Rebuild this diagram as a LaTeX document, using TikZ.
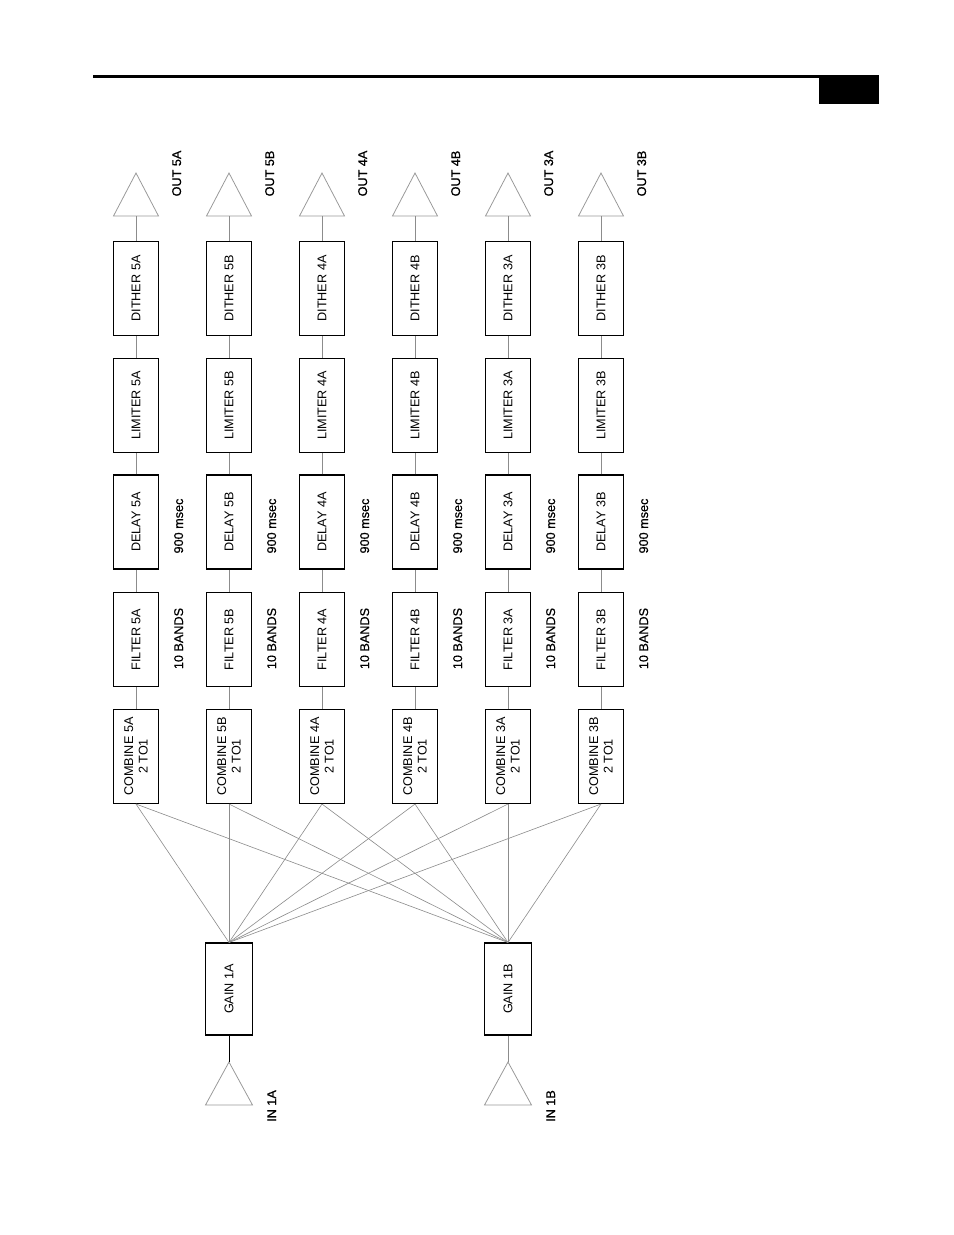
\documentclass[tikz,border=0pt]{standalone}
\usepackage{fontspec}
\setmainfont{Liberation Sans}
\newfontfamily\lblfont[FakeBold=0.6]{Liberation Sans}
\usetikzlibrary{positioning}

\begin{document}
\begin{tikzpicture}[
  x=0.02cm, y=-0.02cm,
  every node/.style={font=\fontsize{7.2}{8.2}\selectfont},
  blk/.style={draw,line width=0.6pt,rotate=90,minimum width=1.88cm,
              minimum height=0.9cm,align=center,inner sep=1pt},
  gainblk/.style={blk,minimum width=1.84cm,minimum height=0.94cm},
  lbl/.style={rotate=90,anchor=base,font=\lblfont\fontsize{7.2}{8.2}\selectfont},
  wire/.style={draw=black!45,line width=0.45pt},
  fan/.style={draw=black!45,line width=0.35pt},
  tri/.style={draw=black!40,line width=0.45pt},
]
  \useasboundingbox (0,0) rectangle (954,1235);

  % Page header
  \draw[line width=1.7pt] (93,76.5) -- (879,76.5);
  \fill (819,77) rectangle (879,104);

  % Output chains, one per column
  \foreach \x/\n [count=\i] in {136/5A,229/5B,322/4A,415/4B,508/3A,601/3B}{
    \node[blk] (dith\i) at (\x,288.5) {DITHER \n};
    \node[blk] (lim\i) at (\x,405.5) {LIMITER \n};
    \node[blk] (del\i) at (\x,522) {DELAY \n};
    \node[blk] (filt\i) at (\x,639.5) {FILTER \n};
    \node[blk] (comb\i) at (\x,756.5) {COMBINE \n\\2 TO1};

    % output triangle
    \coordinate (out\i) at (\x,216);
    \draw[tri] (\x,173) -- (\x-22.5,216) -- (\x+22.5,216) -- cycle;

    % labels
    \node[lbl] (outl\i) at (\x+45,173.5) {OUT \n};
    \node[lbl] (msec\i) at (\x+47,526) {900 msec};
    \node[lbl] (band\i) at (\x+47,638.5) {10 BANDS};

    % chain wiring
    \draw[wire] (comb\i.east) -- (filt\i.west);
    \draw[wire] (filt\i.east) -- (del\i.west);
    \draw[wire] (del\i.east) -- (lim\i.west);
    \draw[wire] (lim\i.east) -- (dith\i.west);
    \draw[wire] (dith\i.east) -- (out\i);
  }

  % Inputs
  \node[gainblk] (gainA) at (229,989) {GAIN 1A};
  \node[gainblk] (gainB) at (508,989) {GAIN 1B};

  \coordinate (inA) at (229,1062);
  \coordinate (inB) at (508,1062);
  \draw[tri] (inA) -- (205.5,1105) -- (252.5,1105) -- cycle;
  \draw[tri] (inB) -- (484.5,1105) -- (531.5,1105) -- cycle;

  \node[lbl] (inlA) at (276,1106) {IN 1A};
  \node[lbl] (inlB) at (555,1106) {IN 1B};

  \draw[line width=0.5pt] (gainA.west) -- (inA);
  \draw[wire] (gainB.west) -- (inB);

  % Fan out: each gain feeds every combiner
  \foreach \i in {1,...,6}{
    \draw[fan] (comb\i.west) -- (gainA.east);
    \draw[fan] (comb\i.west) -- (gainB.east);
  }
\end{tikzpicture}
\end{document}
